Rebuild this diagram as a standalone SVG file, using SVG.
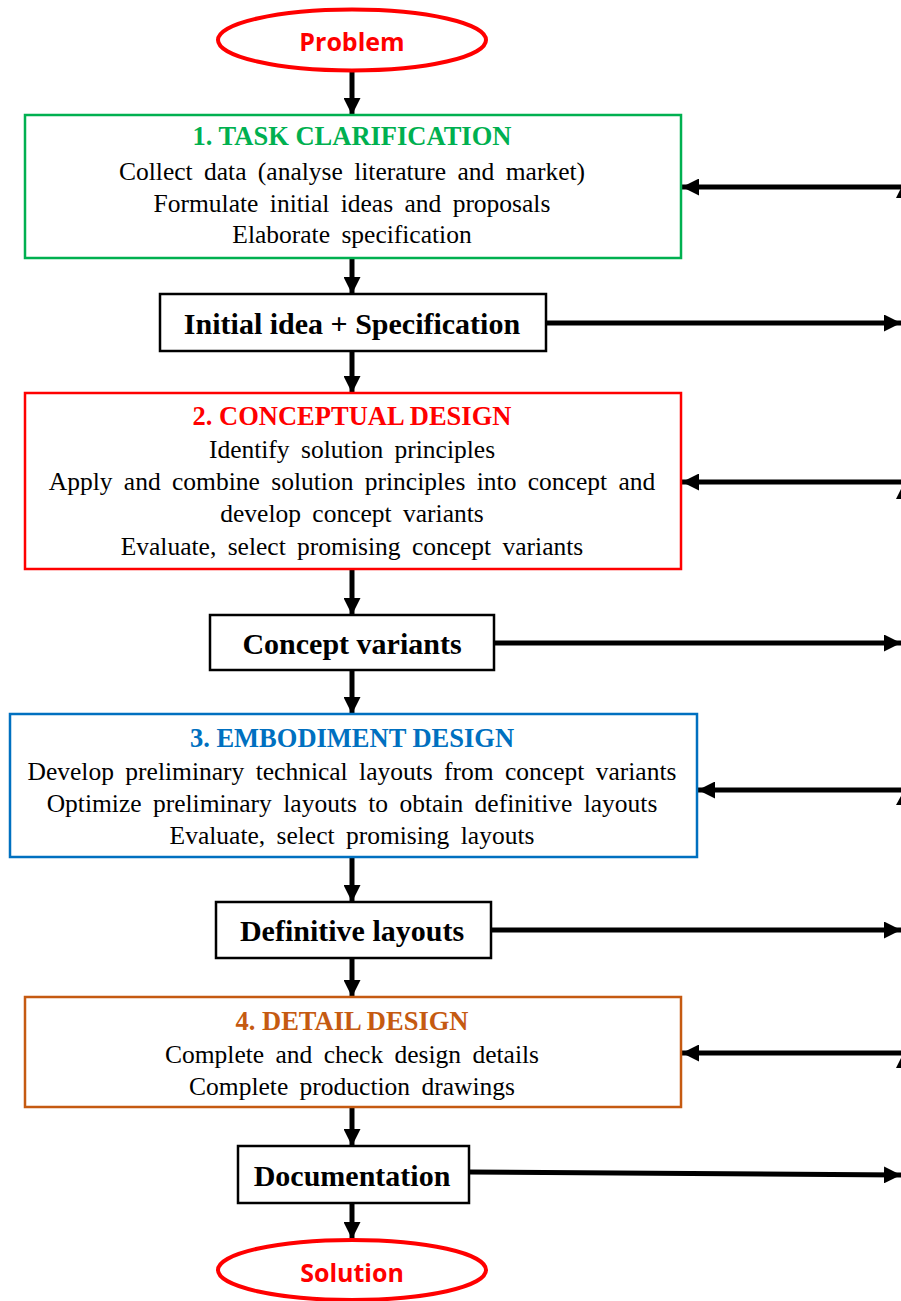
<svg xmlns="http://www.w3.org/2000/svg" width="901" height="1301" viewBox="0 0 901 1301">
<defs>
<style>
.t{font-family:"Liberation Serif","Times New Roman",serif;font-size:25.5px;word-spacing:5px;text-anchor:middle;fill:#000}
.h{font-family:"Liberation Serif","Times New Roman",serif;font-size:26.5px;font-weight:bold;text-anchor:middle}
.b{font-family:"Liberation Serif","Times New Roman",serif;font-size:30px;font-weight:bold;text-anchor:middle;fill:#000}
.e{font-family:"Open Sans","Liberation Sans",sans-serif;font-size:25px;font-weight:bold;text-anchor:middle;fill:#FF0000}
.box{fill:#fff;stroke-width:2.5}
.out{fill:#fff;stroke:#000;stroke-width:2.5}
.ln{stroke:#000;stroke-width:5;fill:none}
</style>
<marker id="ah" viewBox="0 0 10 10" refX="10" refY="5" markerWidth="3.4" markerHeight="3.4" markerUnits="strokeWidth" orient="auto"><path d="M0,0 L10,5 L0,10 z" fill="#000"/></marker>
</defs>
<g id="connectors">
<line class="ln" x1="352" y1="71" x2="352" y2="115" marker-end="url(#ah)"/>
<line class="ln" x1="352" y1="258" x2="352" y2="294" marker-end="url(#ah)"/>
<line class="ln" x1="352" y1="351" x2="352" y2="393" marker-end="url(#ah)"/>
<line class="ln" x1="352" y1="569" x2="352" y2="615" marker-end="url(#ah)"/>
<line class="ln" x1="352" y1="670" x2="352" y2="714" marker-end="url(#ah)"/>
<line class="ln" x1="352" y1="857" x2="352" y2="902" marker-end="url(#ah)"/>
<line class="ln" x1="352" y1="958" x2="352" y2="997" marker-end="url(#ah)"/>
<line class="ln" x1="352" y1="1107" x2="352" y2="1146" marker-end="url(#ah)"/>
<line class="ln" x1="352" y1="1203" x2="352" y2="1239" marker-end="url(#ah)"/>
<line class="ln" x1="546" y1="323" x2="901" y2="323" marker-end="url(#ah)"/>
<line class="ln" x1="494" y1="643" x2="901" y2="643" marker-end="url(#ah)"/>
<line class="ln" x1="491" y1="930" x2="901" y2="930" marker-end="url(#ah)"/>
<line class="ln" x1="469" y1="1172" x2="901" y2="1175" marker-end="url(#ah)"/>
<line class="ln" x1="901" y1="187" x2="682" y2="187" marker-end="url(#ah)"/>
<line class="ln" x1="901" y1="482" x2="682" y2="482" marker-end="url(#ah)"/>
<line class="ln" x1="901" y1="790" x2="698" y2="790" marker-end="url(#ah)"/>
<line class="ln" x1="901" y1="1053" x2="682" y2="1053" marker-end="url(#ah)"/>
<polygon points="896,198 901,188 901,198" fill="#000"/>
<polygon points="896,499 901,489 901,499" fill="#000"/>
<polygon points="896,805 901,796 901,805" fill="#000"/>
<polygon points="896,1068 901,1058 901,1068" fill="#000"/>
</g>
<g id="problem">
<ellipse cx="352" cy="40" rx="134" ry="30.5" fill="#fff" stroke="#FF0000" stroke-width="4"/>
<text class="e" x="352" y="51">Problem</text>
</g>
<g id="task">
<rect class="box" x="25" y="115" width="656" height="143" stroke="#00B050"/>
<text class="h" x="352" y="145" fill="#00B050">1. TASK CLARIFICATION</text>
<text class="t" x="352" y="180">Collect data (analyse literature and market)</text>
<text class="t" x="352" y="212">Formulate initial ideas and proposals</text>
<text class="t" x="352" y="243">Elaborate specification</text>
</g>
<g id="spec">
<rect class="out" x="160" y="294" width="386" height="57"/>
<text class="b" x="352" y="334">Initial idea + Specification</text>
</g>
<g id="concept">
<rect class="box" x="25" y="393" width="656" height="176" stroke="#FF0000"/>
<text class="h" x="352" y="425" fill="#FF0000">2. CONCEPTUAL DESIGN</text>
<text class="t" x="352" y="458">Identify solution principles</text>
<text class="t" x="352" y="490">Apply and combine solution principles into concept and</text>
<text class="t" x="352" y="522">develop concept variants</text>
<text class="t" x="352" y="555">Evaluate, select promising concept variants</text>
</g>
<g id="variants">
<rect class="out" x="210" y="615" width="284" height="55"/>
<text class="b" x="352" y="654">Concept variants</text>
</g>
<g id="embodiment">
<rect class="box" x="10" y="714" width="687" height="143" stroke="#0070C0"/>
<text class="h" x="352" y="747" fill="#0070C0">3. EMBODIMENT DESIGN</text>
<text class="t" x="352" y="780">Develop preliminary technical layouts from concept variants</text>
<text class="t" x="352" y="812">Optimize preliminary layouts to obtain definitive layouts</text>
<text class="t" x="352" y="844">Evaluate, select promising layouts</text>
</g>
<g id="layouts">
<rect class="out" x="216" y="902" width="275" height="56"/>
<text class="b" x="352" y="941">Definitive layouts</text>
</g>
<g id="detail">
<rect class="box" x="25" y="997" width="656" height="110" stroke="#C55A11"/>
<text class="h" x="352" y="1030" fill="#C55A11">4. DETAIL DESIGN</text>
<text class="t" x="352" y="1063" fill="#C55A11">Complete and check design details</text>
<text class="t" x="352" y="1095" fill="#C55A11">Complete production drawings</text>
</g>
<g id="documentation">
<rect class="out" x="238" y="1146" width="231" height="57"/>
<text class="b" x="352" y="1186">Documentation</text>
</g>
<g id="solution">
<ellipse cx="352" cy="1270" rx="134" ry="30" fill="#fff" stroke="#FF0000" stroke-width="4"/>
<text class="e" x="352" y="1282">Solution</text>
</g>
</svg>
